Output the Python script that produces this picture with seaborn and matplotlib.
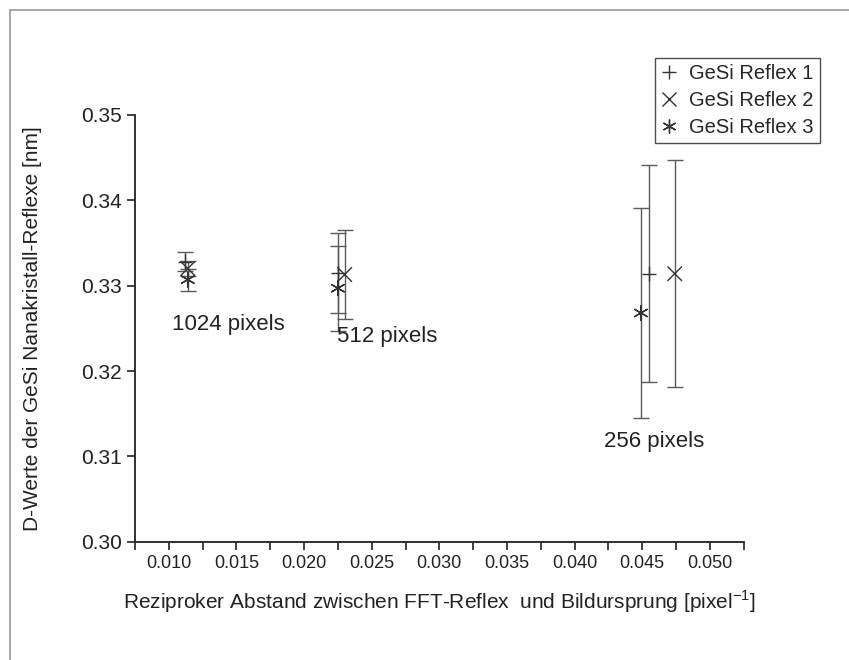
import matplotlib
matplotlib.use("Agg")
import matplotlib.pyplot as plt
from matplotlib.lines import Line2D
import seaborn as sns
import pandas as pd

series = ["GeSi Reflex 1", "GeSi Reflex 2", "GeSi Reflex 3"]

# 1024 / 512 / 256 pixel images
x_r1 = [0.0112, 0.0225, 0.0455]
y_r1 = [0.3328, 0.3315, 0.3314]
e_r1 = [0.0011, 0.0047, 0.0127]

x_r2 = [0.0114, 0.0230, 0.0474]
y_r2 = [0.3320, 0.3313, 0.3314]
e_r2 = [0.0009, 0.0052, 0.0133]

x_r3 = [0.0114, 0.0225, 0.0449]
y_r3 = [0.3307, 0.3297, 0.3268]
e_r3 = [0.0013, 0.0050, 0.0123]

notes = ["1024 pixels", "512 pixels", "256 pixels"]
note_x = [0.0102, 0.0224, 0.0422]
note_y = [0.3254, 0.3241, 0.3118]

df = pd.DataFrame({
    "x": x_r1 + x_r2 + x_r3,
    "y": y_r1 + y_r2 + y_r3,
    "err": e_r1 + e_r2 + e_r3,
    "series": [series[0]] * 3 + [series[1]] * 3 + [series[2]] * 3,
})

sns.set_style("ticks")
plt.rcParams["font.family"] = ["Liberation Sans", "DejaVu Sans"]

fig = plt.figure(figsize=(8.49, 6.6), dpi=100)
ax = fig.add_axes([0.159, 0.179, 0.717, 0.647])

for s in series:
    d = df[df["series"] == s]
    ax.errorbar(d["x"], d["y"], yerr=d["err"], fmt="none", ecolor="#5a5a5a",
                elinewidth=1.0, capsize=6, capthick=1.0, zorder=1)

markers = {series[0]: "+", series[1]: "x", series[2]: (6, 2, 0)}
sns.scatterplot(data=df, x="x", y="y", style="series", markers=markers,
                color="#333333", s=110, linewidth=1.0, ax=ax, legend=False, zorder=2)

for t, tx, ty in zip(notes, note_x, note_y):
    ax.text(tx, ty, t, fontsize=16, color="#222222", va="center", ha="left")

ax.set_xlim(0.0075, 0.0525)
ax.set_ylim(0.30, 0.35)
ax.set_xticks([0.010, 0.015, 0.020, 0.025, 0.030, 0.035, 0.040, 0.045, 0.050])
ax.set_xticks([0.0075 + 0.005 * i for i in range(10)], minor=True)
ax.set_yticks([0.30, 0.31, 0.32, 0.33, 0.34, 0.35])
ax.set_xticklabels(["0.010", "0.015", "0.020", "0.025", "0.030", "0.035", "0.040", "0.045", "0.050"])
ax.set_yticklabels(["0.30", "0.31", "0.32", "0.33", "0.34", "0.35"])
ax.tick_params(axis="x", which="both", direction="out", length=6, width=1.2,
               color="#222222", labelsize=13, labelcolor="#222222")
ax.tick_params(axis="y", which="both", direction="out", length=6, width=1.2,
               color="#222222", labelsize=15, labelcolor="#222222")
for sp in ["top", "right"]:
    ax.spines[sp].set_visible(False)
for sp in ["left", "bottom"]:
    ax.spines[sp].set_linewidth(1.3)
    ax.spines[sp].set_color("#222222")

ax.set_xlabel("Reziproker Abstand zwischen FFT-Reflex  und Bildursprung [pixel$^{\\mathregular{-1}}$]",
              fontsize=15, color="#222222", labelpad=12)
ax.set_ylabel("D-Werte der GeSi Nanakristall-Reflexe [nm]", fontsize=15, color="#222222", labelpad=28)

handles = [Line2D([], [], linestyle="none", marker=markers[s], color="#333333",
                  markersize=10, markeredgewidth=1.0, label=s) for s in series]
leg = fig.legend(handles=handles, loc="upper left", bbox_to_anchor=(655 / 849, 1 - 58 / 660),
                 borderaxespad=0, fontsize=14.5, frameon=True, fancybox=False, borderpad=0.3,
                 handletextpad=0.6, labelspacing=0.4, handlelength=0.8)
leg.get_frame().set_edgecolor("#222222")
leg.get_frame().set_linewidth(1.0)

# page border lines (top and left)
fig.add_artist(Line2D([10 / 849, 1.0], [1 - 10 / 660, 1 - 10 / 660], color="#999999", lw=1.2))
fig.add_artist(Line2D([10 / 849, 10 / 849], [0.0, 1 - 10 / 660], color="#999999", lw=1.2))

fig.savefig("out.png", dpi=100)
